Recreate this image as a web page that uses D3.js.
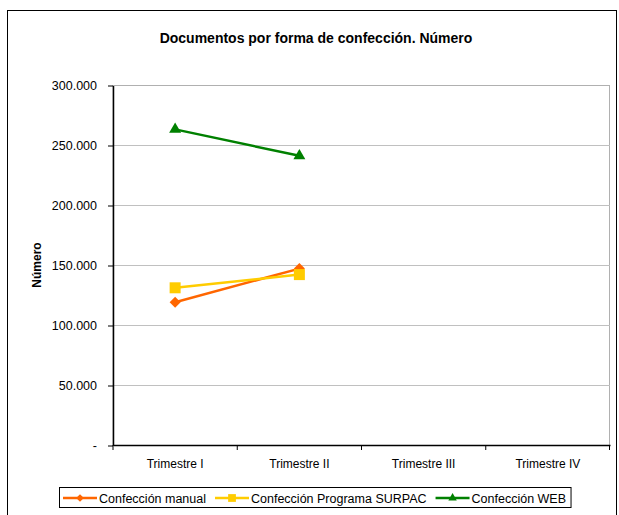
<!DOCTYPE html>
<html>
<head>
<meta charset="utf-8">
<script src="https://cdn.jsdelivr.net/npm/d3@7"></script>
<style>
  body { margin: 0; background: #fff; }
  text { font-family: "Liberation Sans", Arial, sans-serif; }
</style>
</head>
<body>
<script>
/* ---------------------------------- Data ---------------------------------- */
const categories = ["Trimestre I", "Trimestre II", "Trimestre III", "Trimestre IV"];
const seriesNames = ["Confección manual", "Confección Programa SURPAC", "Confección WEB"];
const manual = [119000, 147000];
const surpac = [131000, 142000];
const web = [263000, 241000];
const yTicks = [0, 50000, 100000, 150000, 200000, 250000, 300000];

/* --------------------------------- Layout --------------------------------- */
const width = 619, height = 515;
const plot = { left: 113, right: 610, top: 85, bottom: 445 };
const colors = ["#ff6600", "#ffcc00", "#008000"];
const labelSize = "12.5px";

const svg = d3.select("body").append("svg").attr("width", width).attr("height", height);

// outer chart border
svg.append("rect")
    .attr("x", 7.5).attr("y", 10.5)
    .attr("width", 609).attr("height", 520)
    .attr("fill", "#fff").attr("stroke", "#000").attr("stroke-width", 1);

svg.append("text")
    .attr("x", 316).attr("y", 43)
    .attr("text-anchor", "middle")
    .attr("font-size", "14px").attr("font-weight", "bold")
    .text("Documentos por forma de confección. Número");

const x = d3.scaleBand().domain(categories).range([plot.left, plot.right]);
const y = d3.scaleLinear().domain([0, 300000]).range([plot.bottom, plot.top]);

// plot area border (grey)
svg.append("rect")
    .attr("x", plot.left).attr("y", plot.top + 0.5)
    .attr("width", plot.right - plot.left - 0.5).attr("height", plot.bottom - plot.top)
    .attr("fill", "none").attr("stroke", "#b0b0b0");

// gridlines
svg.append("g").selectAll("line")
    .data(yTicks.filter(d => d > 0 && d < 300000))
    .join("line")
    .attr("x1", plot.left).attr("x2", plot.right)
    .attr("y1", d => y(d) + 0.5).attr("y2", d => y(d) + 0.5)
    .attr("stroke", "#c0c0c0");

const fmt = d => d === 0 ? "-" : d3.format(",")(d).replace(/,/g, ".");

// y axis
const yAxis = svg.append("g")
    .attr("transform", `translate(${plot.left},0.5)`)
    .call(d3.axisLeft(y).tickValues(yTicks).tickFormat(fmt).tickSize(5).tickPadding(11).tickSizeOuter(0));
yAxis.select(".domain").attr("stroke", "#000").attr("stroke-width", 1.5);
yAxis.selectAll("text").attr("font-size", labelSize).attr("fill", "#000");

// x axis
const xAxis = svg.append("g")
    .attr("transform", `translate(0,${plot.bottom})`)
    .call(d3.axisBottom(x).tickSize(0).tickPadding(14.5).tickSizeOuter(0));
xAxis.select(".domain").attr("stroke", "#000").attr("stroke-width", 1.5);
xAxis.selectAll("text").attr("font-size", "12px").attr("fill", "#000");
xAxis.selectAll(".sep")
    .data(categories.map(c => x(c)).concat([plot.right - 0.5]))
    .join("line")
    .attr("x1", d => d).attr("x2", d => d)
    .attr("y1", 0).attr("y2", 5)
    .attr("stroke", "#000");

svg.append("text")
    .attr("transform", `translate(40.5,${(plot.top + plot.bottom) / 2}) rotate(-90)`)
    .attr("text-anchor", "middle")
    .attr("font-size", "12px").attr("font-weight", "bold")
    .text("Número");

/* --------------------------------- Series --------------------------------- */
const series = [manual, surpac, web];
const markers = [
    { type: d3.symbolSquare, size: 60, rotate: 45 },
    { type: d3.symbolSquare, size: 121, rotate: 0 },
    { type: d3.symbolTriangle, size: 62, rotate: 0 }
];
const cx = (d, i) => x(categories[i]) + x.bandwidth() / 2;

const line = d3.line().x(cx).y(d => y(d));

series.forEach((vals, s) => {
    svg.append("path")
        .datum(vals)
        .attr("d", line)
        .attr("fill", "none")
        .attr("stroke", colors[s])
        .attr("stroke-width", 2.5);
    svg.append("g").selectAll("path")
        .data(vals)
        .join("path")
        .attr("transform", (d, i) => `translate(${cx(d, i)},${y(d)}) rotate(${markers[s].rotate})`)
        .attr("d", d3.symbol().type(markers[s].type).size(markers[s].size))
        .attr("fill", colors[s]);
});

/* --------------------------------- Legend --------------------------------- */
const legend = svg.append("g");
const legendBox = legend.append("rect")
    .attr("x", 59.5).attr("y", 487.5)
    .attr("height", 20)
    .attr("fill", "#fff").attr("stroke", "#000");

let lx = 63;
seriesNames.forEach((name, s) => {
    const g = legend.append("g").attr("transform", `translate(${lx},498)`);
    g.append("line").attr("x1", 0).attr("x2", 34).attr("stroke", colors[s]).attr("stroke-width", 2.5);
    g.append("path")
        .attr("transform", `translate(17,0) rotate(${markers[s].rotate})`)
        .attr("d", d3.symbol().type(markers[s].type).size(markers[s].size * 0.5))
        .attr("fill", colors[s]);
    const t = g.append("text").attr("x", 36).attr("y", 4.5).attr("font-size", labelSize).text(name);
    lx += 36 + t.node().getComputedTextLength() + 9;
});
legendBox.attr("width", lx - 59.5 - 4);
</script>
</body>
</html>
